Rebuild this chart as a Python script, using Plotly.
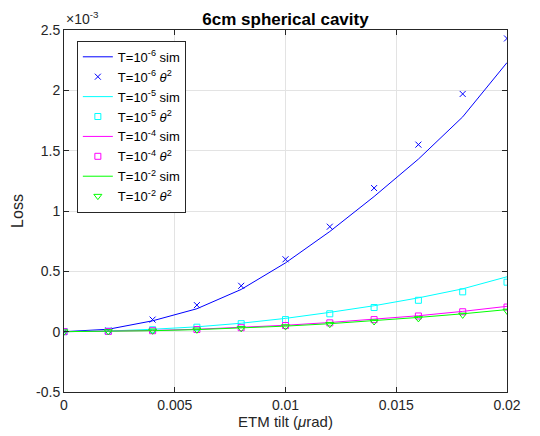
import plotly.graph_objects as go

# ETM tilt (urad)
tilt = [0, 0.002, 0.004, 0.006, 0.008, 0.010, 0.012, 0.014, 0.016, 0.018, 0.020]

# Loss values in units of 1e-3 (axis shows x10^-3)
sim_t6 = [0, 0.02, 0.09, 0.19, 0.35, 0.57, 0.83, 1.12, 1.43, 1.78, 2.23]
th2_t6 = [0, 0.01, 0.10, 0.22, 0.38, 0.60, 0.87, 1.19, 1.55, 1.97, 2.43]
sim_t5 = [0, 0.005, 0.02, 0.04, 0.07, 0.11, 0.16, 0.215, 0.28, 0.355, 0.455]
th2_t5 = [0, 0.004, 0.016, 0.037, 0.066, 0.10, 0.148, 0.20, 0.26, 0.33, 0.41]
sim_t4 = [0, 0.003, 0.01, 0.02, 0.035, 0.053, 0.076, 0.102, 0.132, 0.168, 0.21]
th2_t4 = [0, 0.002, 0.008, 0.018, 0.033, 0.051, 0.073, 0.10, 0.13, 0.165, 0.204]
sim_t2 = [0, 0.002, 0.008, 0.017, 0.03, 0.046, 0.066, 0.09, 0.118, 0.148, 0.183]
th2_t2 = [0, 0.0017, 0.007, 0.0155, 0.0275, 0.043, 0.062, 0.084, 0.11, 0.139, 0.172]

x_ticks = [0, 0.005, 0.01, 0.015, 0.02]
x_ticktext = ["0", "0.005", "0.01", "0.015", "0.02"]
y_ticks = [-0.5, 0, 0.5, 1, 1.5, 2, 2.5]
y_ticktext = ["-0.5", "0", "0.5", "1", "1.5", "2", "2.5"]

FONT = "Liberation Sans, Arial, Helvetica, sans-serif"

fig = go.Figure()

def add_sim(y, color, name):
    fig.add_trace(go.Scatter(x=tilt, y=y, mode="lines", name=name,
                             line=dict(color=color, width=1)))

def add_pts(y, color, symbol, size, name):
    fig.add_trace(go.Scatter(x=tilt, y=y, mode="markers", name=name,
                             marker=dict(color=color, symbol=symbol, size=size,
                                         line=dict(color=color, width=1))))

add_sim(sim_t6, "#0000ff", "T=10<sup>-6</sup> sim")
add_pts(th2_t6, "#0000ff", "x-thin", 6, "T=10<sup>-6</sup> <i>θ</i><sup>2</sup>")
add_sim(sim_t5, "#00ffff", "T=10<sup>-5</sup> sim")
add_pts(th2_t5, "#00ffff", "square-open", 6, "T=10<sup>-5</sup> <i>θ</i><sup>2</sup>")
add_sim(sim_t4, "#ff00ff", "T=10<sup>-4</sup> sim")
add_pts(th2_t4, "#ff00ff", "square-open", 6, "T=10<sup>-4</sup> <i>θ</i><sup>2</sup>")
add_sim(sim_t2, "#00ff00", "T=10<sup>-2</sup> sim")
add_pts(th2_t2, "#00ff00", "triangle-down-open", 7, "T=10<sup>-2</sup> <i>θ</i><sup>2</sup>")

axis_common = dict(showline=True, linecolor="#262626", linewidth=1, mirror="ticks",
                   ticks="inside", ticklen=5, tickcolor="#262626",
                   showgrid=True, gridcolor="#e3e3e3", gridwidth=1,
                   zeroline=False, tickfont=dict(family=FONT, size=14, color="#262626"))

fig.update_xaxes(range=[0, 0.02], tickvals=x_ticks, ticktext=x_ticktext,
                 title=dict(text="ETM tilt (<i>μ</i>rad)", font=dict(family=FONT, size=15, color="#262626"),
                            standoff=2),
                 **axis_common)
fig.update_yaxes(range=[-0.5, 2.5], tickvals=y_ticks, ticktext=y_ticktext,
                 title=dict(text="Loss", font=dict(family=FONT, size=16, color="#262626"), standoff=8),
                 **axis_common)

fig.add_annotation(text="×10<sup>-3</sup>", xref="paper", yref="paper", x=0, y=1,
                   xanchor="left", yanchor="bottom", showarrow=False, yshift=1,
                   font=dict(family=FONT, size=14, color="#262626"))

fig.update_layout(
    width=540, height=436,
    margin=dict(l=64, r=33, t=30, b=44),
    paper_bgcolor="white", plot_bgcolor="white",
    title=dict(text="<b>6cm spherical cavity</b>", x=0.5, xref="paper", xanchor="center",
               y=1, yref="paper", yanchor="bottom", pad=dict(b=5),
               font=dict(family=FONT, size=17, color="black")),
    legend=dict(x=0.029, y=0.97, xanchor="left", yanchor="top",
                bgcolor="white", bordercolor="#262626", borderwidth=1,
                font=dict(family=FONT, size=13, color="black"),
                tracegroupgap=0, itemwidth=30),
    showlegend=True,
)

fig.write_html("out.html")
